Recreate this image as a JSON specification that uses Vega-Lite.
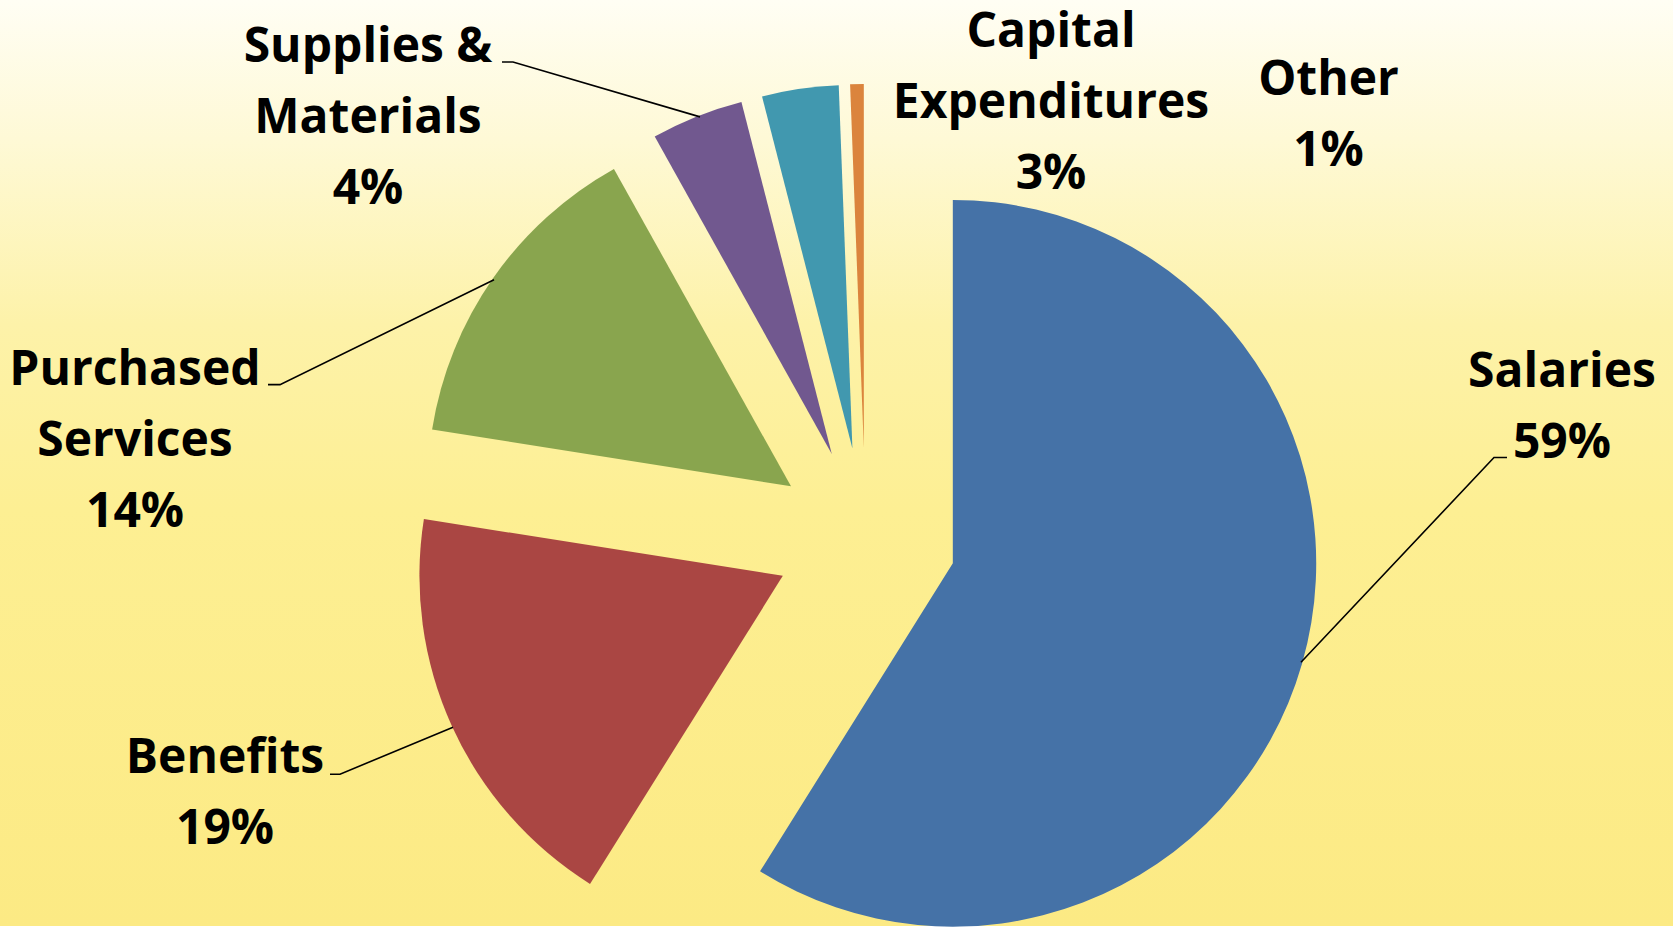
{
  "$schema": "https://vega.github.io/schema/vega-lite/v6.json",
  "width": 1673,
  "height": 927,
  "autosize": {"type": "fit", "contains": "padding"},
  "padding": 0,
  "config": {
    "view": {
      "stroke": null,
      "fill": {
        "gradient": "linear",
        "x1": 0, "y1": 0, "x2": 0, "y2": 1,
        "stops": [
          {"offset": 0, "color": "#FFFEF4"},
          {"offset": 0.15, "color": "#FEF9D6"},
          {"offset": 0.35, "color": "#FDF2A9"},
          {"offset": 0.55, "color": "#FDEF93"},
          {"offset": 1, "color": "#FCEA84"}
        ]
      }
    }
  },
  "datasets": {
    "slices": [
      {"cat": "Salaries", "idx": 1, "value": 58.9},
      {"cat": "Benefits", "idx": 2, "value": 18.6},
      {"cat": "Purchased Services", "idx": 3, "value": 14.4},
      {"cat": "Supplies & Materials", "idx": 4, "value": 4.1},
      {"cat": "Capital Expenditures", "idx": 5, "value": 3.4},
      {"cat": "Other", "idx": 6, "value": 0.6}
    ],
    "labels": [
      {"cat": "Salaries", "name": "Salaries", "lx": 1.9166, "ly": 0.4177},
      {"cat": "Benefits", "name": "Benefits", "lx": -1.7625, "ly": -0.6472},
      {"cat": "Purchased Services", "name": "Purchased\nServices", "lx": -2.0102, "ly": 0.4232},
      {"cat": "Supplies & Materials", "name": "Supplies &\nMaterials", "lx": -1.369, "ly": 1.312},
      {"cat": "Capital Expenditures", "name": "Capital\nExpenditures", "lx": 0.5105, "ly": 1.3533},
      {"cat": "Other", "name": "Other", "lx": 1.2741, "ly": 1.2212}
    ],
    "leaders": [
      {"cat": "Salaries", "k": 1, "lx": 1.7653, "ly": 0.2223},
      {"cat": "Salaries", "k": 2, "lx": 1.7295, "ly": 0.2223},
      {"cat": "Salaries", "k": 3, "lx": 1.1984, "ly": -0.3418},
      {"cat": "Benefits", "k": 1, "lx": -1.4736, "ly": -0.65},
      {"cat": "Benefits", "k": 2, "lx": -1.4461, "ly": -0.65},
      {"cat": "Benefits", "k": 3, "lx": -1.1351, "ly": -0.5206},
      {"cat": "Supplies & Materials", "k": 1, "lx": -1.0003, "ly": 1.312},
      {"cat": "Supplies & Materials", "k": 2, "lx": -0.97, "ly": 1.312},
      {"cat": "Supplies & Materials", "k": 3, "lx": -0.4554, "ly": 1.1607},
      {"cat": "Purchased Services", "k": 1, "lx": -1.6442, "ly": 0.4232},
      {"cat": "Purchased Services", "k": 2, "lx": -1.6112, "ly": 0.4232},
      {"cat": "Purchased Services", "k": 3, "lx": -1.0223, "ly": 0.7122}
    ]
  },
  "layer": [
    {
      "data": {"name": "slices"},
      "transform": [
        {"window": [{"op": "sum", "field": "value", "as": "cum"}], "sort": [{"field": "idx"}], "frame": [null, 0]},
        {"calculate": "datum.cum - datum.value", "as": "t0"},
        {"calculate": "(datum.cum - datum.value / 2) / 100 * 2 * PI", "as": "mid"},
        {"calculate": "0.25 * sin(datum.mid)", "as": "ex"},
        {"calculate": "0.25 * cos(datum.mid)", "as": "ey"}
      ],
      "mark": {"type": "arc", "radius": 363.4},
      "encoding": {
        "x": {"field": "ex", "type": "quantitative", "scale": {"domain": [-2.3817, 2.2221], "nice": false, "zero": false}, "axis": null},
        "y": {"field": "ey", "type": "quantitative", "scale": {"domain": [-1.0682, 1.4827], "nice": false, "zero": false}, "axis": null},
        "theta": {"field": "t0", "type": "quantitative", "stack": null, "scale": {"domain": [0, 100], "range": [0, 6.283185307]}},
        "theta2": {"field": "cum"},
        "color": {
          "field": "cat", "type": "nominal", "legend": null,
          "scale": {
            "domain": ["Salaries", "Benefits", "Purchased Services", "Supplies & Materials", "Capital Expenditures", "Other"],
            "range": ["#4572A7", "#AA4643", "#89A54E", "#71588F", "#4198AF", "#DB843D"]
          }
        }
      }
    },
    {
      "data": {"name": "leaders"},
      "mark": {"type": "line", "color": "#000000", "strokeWidth": 1.6},
      "encoding": {
        "x": {"field": "lx", "type": "quantitative", "axis": null},
        "y": {"field": "ly", "type": "quantitative", "axis": null},
        "detail": {"field": "cat"},
        "order": {"field": "k"}
      }
    },
    {
      "data": {"name": "labels"},
      "transform": [
        {"lookup": "cat", "from": {"data": {"name": "slices"}, "key": "cat", "fields": ["value"]}},
        {"calculate": "datum.name + '\\n' + format(datum.value, '.0f') + '%'", "as": "txt"}
      ],
      "mark": {"type": "text", "font": "Open Sans", "fontWeight": "bold", "fontSize": 48, "lineHeight": 71, "lineBreak": "\n", "align": "center", "baseline": "alphabetic", "color": "#000000"},
      "encoding": {
        "x": {"field": "lx", "type": "quantitative", "axis": null},
        "y": {"field": "ly", "type": "quantitative", "axis": null},
        "text": {"field": "txt"}
      }
    }
  ]
}
